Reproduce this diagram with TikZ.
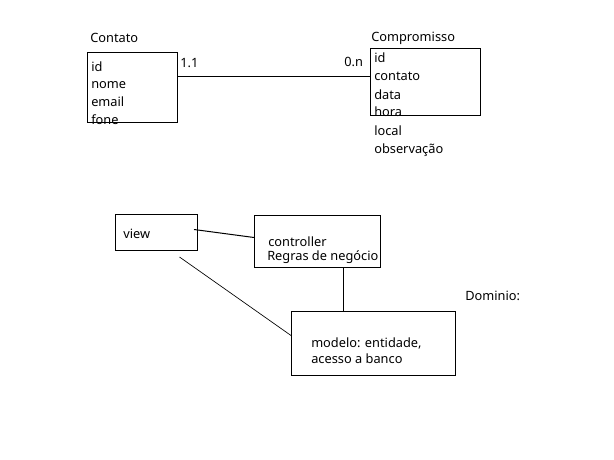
\documentclass[tikz,border=0pt]{standalone}
\usepackage{fontspec}
\setmainfont{Noto Sans}
\begin{document}
\begin{tikzpicture}[x=0.75pt,y=-0.75pt,
  box/.style={draw,line width=0.75pt,inner sep=0pt,anchor=north west},
  lbl/.style={anchor=base west,inner sep=0pt,font=\fontsize{9.6}{11}\selectfont},
  conn/.style={line width=0.75pt},
  thinconn/.style={line width=0.5pt}]
\useasboundingbox (0,0) rectangle (614,460);
% boxes
\node[box,minimum width=67.5pt,minimum height=52.5pt] (contato) at (87,52) {};
\node[box,minimum width=82.5pt,minimum height=50.25pt] (comp) at (370,48) {};
\node[box,minimum width=61.5pt,minimum height=27pt] (view) at (115,214) {};
\node[box,minimum width=94.5pt,minimum height=39pt] (ctrl) at (254,215) {};
\node[box,minimum width=123pt,minimum height=48pt] (modelo) at (291,311) {};
% texts
\node[lbl] (tContato) at (90,43) {Contato};
\node[lbl] (c1) at (91,72) {id};
\node[lbl] (c2) at (91,89) {nome};
\node[lbl] (c3) at (91,107) {email};
\node[lbl] (c4) at (91,124) {fone};
\node[lbl] (m11) at (180,68) {1.1};
\node[lbl] (tComp) at (371,42) {Compromisso};
\node[lbl] (p1) at (374,63) {id};
\node[lbl] (p2) at (374,81) {contato};
\node[lbl] (p3) at (374,99) {data};
\node[lbl] (p4) at (374,117) {hora};
\node[lbl] (p5) at (374,136) {local};
\node[lbl] (p6) at (374,153) {observação};
\node[lbl] (m0n) at (344,67) {0.n};
\node[lbl] (tView) at (123,238) {view};
\node[lbl] (tCtrl) at (268,246) {controller};
\node[lbl] (tRegras) at (267,260) {Regras de negócio};
\node[lbl] (tMod1) at (311,347) {modelo: entidade,};
\node[lbl] (tMod2) at (311,363) {acesso a banco};
\node[lbl] (tDom) at (465,300) {Dominio:};
% connectors
\draw[conn] ([yshift=8.25pt]contato.east) -- ([yshift=8.25pt]contato.east -| comp.west);
\draw[conn] ([xshift=-3pt,yshift=2.25pt]view.east) -- ([yshift=3pt]ctrl.west);
\draw[conn] ([xshift=19.5pt]ctrl.south) -- ([xshift=19.5pt]ctrl.south |- modelo.north);
\draw[thinconn] ([xshift=17.25pt,yshift=-4.5pt]view.south) -- ([yshift=6pt]modelo.west);
\end{tikzpicture}
\end{document}
